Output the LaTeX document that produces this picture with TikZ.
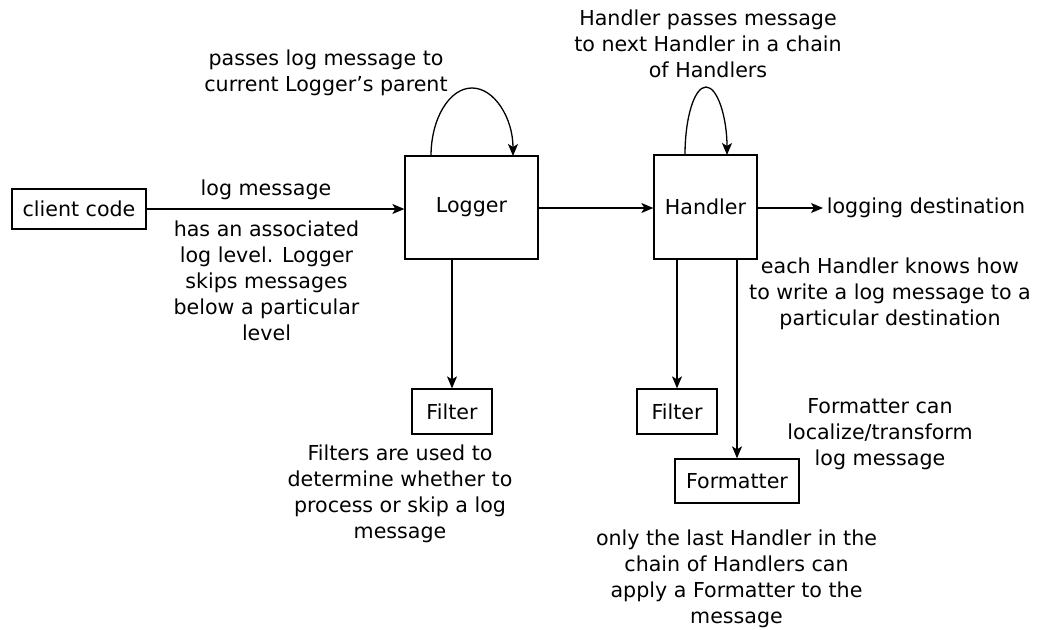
\documentclass[tikz,border=0pt]{standalone}
\usepackage{fontspec}
\setmainfont{DejaVu Sans}
\usetikzlibrary{arrows.meta}
\begin{document}
\begin{tikzpicture}[x=1pt,y=-1pt,
  every node/.style={font=\fontsize{20.6}{26}\selectfont, inner sep=0pt},
  boxnode/.style={draw, line width=1.3pt, align=center},
  note/.style={align=center},
  conn/.style={line width=1.3pt, -{Stealth[length=12pt,width=10pt,inset=3pt]}}]
\useasboundingbox (0,0) rectangle (1046,629);
% boxes
\node[boxnode, minimum width=134pt, minimum height=40pt] (client) at (79,209) {client code};
\node[boxnode, minimum width=133pt, minimum height=103pt] (logger) at (471.5,207.5) {Logger};
\node[boxnode, minimum width=103pt, minimum height=104pt] (handler) at (705.5,207) {Handler};
\node[boxnode, minimum width=80pt, minimum height=45pt] (filter1) at (452,411.5) {Filter};
\node[boxnode, minimum width=80pt, minimum height=45pt] (filter2) at (677,411.5) {Filter};
\node[boxnode, minimum width=124pt, minimum height=44pt] (formatter) at (737,481) {Formatter};
% texts
\node[note] (dest) at (926,208) {logging destination};
\node[note] (tLogmsg) at (266,190) {log message};
\node[note] (tParent) at (326,73) {passes log message to\\current Logger’s parent};
\node[note] (tChain) at (708,44) {Handler passes message\\to next Handler in a chain\\of Handlers};
\node[note] (tLevel) at (266.5,281) {has an associated\\log level. Logger\\skips messages\\below a particular\\level};
\node[note] (tKnows) at (890,294) {each Handler knows how\\to write a log message to a\\particular destination};
\node[note] (tFmt) at (880,434) {Formatter can\\localize/transform\\log message};
\node[note] (tFilters) at (400,494) {Filters are used to\\determine whether to\\process or skip a log\\message};
\node[note] (tLast) at (736.5,579) {only the last Handler in the\\chain of Handlers can\\apply a Formatter to the\\message};
% connectors
\coordinate (lA) at (431,156);
\coordinate (lB) at (513,156);
\coordinate (hA) at (685,155);
\coordinate (hB) at (727,155);
\coordinate (dA) at (823,208);
\draw[conn] (client.east) -- (client.east -| logger.west);
\draw[conn] (logger.east |- 0,208) -- (handler.west |- 0,208);
\draw[conn] (handler.east |- 0,208) -- (dA);
\draw[conn] (lA) .. controls (431,118.5) and (449.4,88) .. (472,88)
  .. controls (494.6,88) and (513,118.5) .. (lB);
\draw[conn] (hA) .. controls (685,117.5) and (694.4,87) .. (706,87)
  .. controls (717.6,87) and (727,117.5) .. (hB);
\draw[conn] (filter1.north |- logger.south) -- (filter1.north);
\draw[conn] (filter2.north |- handler.south) -- (filter2.north);
\draw[conn] (formatter.north |- handler.south) -- (formatter.north);
\end{tikzpicture}
\end{document}
